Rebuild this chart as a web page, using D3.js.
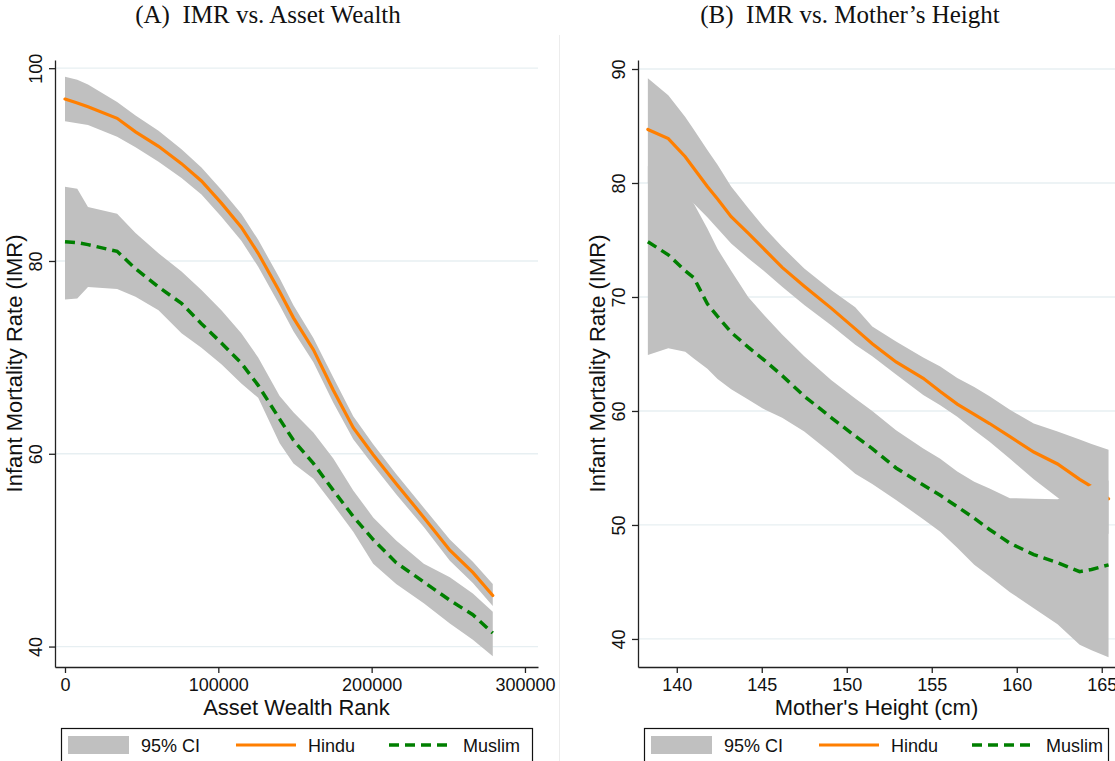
<!DOCTYPE html>
<html>
<head>
<meta charset="utf-8">
<script src="https://cdn.jsdelivr.net/npm/d3@7"></script>
<style>
  body { margin: 0; background: #fff; }
  svg { display: block; }
</style>
</head>
<body>
<script>
// panel A: IMR by asset wealth rank
const xA = [0, 8000, 15000, 34000, 46000, 61000, 76000, 89000, 102000, 115000, 126000, 140000, 149000, 162000, 175000, 188000, 201000, 216000, 234000, 251000, 266000, 279000]
const hinduA = [96.8, 96.4, 96.0, 94.8, 93.4, 91.9, 90.1, 88.3, 86.0, 83.5, 80.8, 76.8, 74.1, 70.8, 66.6, 62.7, 59.9, 56.9, 53.4, 50.0, 47.7, 45.3]
const hinduAHi = [99.1, 98.8, 98.3, 96.5, 95.1, 93.5, 91.6, 89.7, 87.4, 84.9, 82.2, 78.2, 75.4, 72.0, 67.9, 63.9, 61.0, 57.9, 54.4, 51.1, 48.8, 46.5]
const hinduALo = [94.5, 94.3, 94.1, 92.9, 91.8, 90.3, 88.6, 86.9, 84.6, 82.1, 79.4, 75.4, 72.7, 69.5, 65.3, 61.5, 58.8, 55.8, 52.4, 48.9, 46.6, 44.2]
const muslimA = [82.0, 81.9, 81.7, 81.0, 79.2, 77.3, 75.6, 73.5, 71.5, 69.4, 67.1, 63.6, 61.4, 59.0, 56.2, 53.5, 51.1, 48.7, 46.7, 44.8, 43.3, 41.4]
const muslimAHi = [87.7, 87.5, 85.6, 84.9, 82.9, 80.8, 78.9, 77.0, 74.9, 72.5, 70.0, 66.0, 64.3, 62.2, 59.5, 56.2, 53.4, 51.0, 48.6, 47.2, 45.5, 43.6]
const muslimALo = [76.0, 76.1, 77.3, 77.1, 76.3, 74.9, 72.5, 71.0, 69.3, 67.3, 65.8, 61.1, 59.0, 57.4, 54.7, 51.9, 48.6, 46.5, 44.5, 42.4, 40.7, 39.0]

// panel B: IMR by mother's height
const xB = [138.3, 139.5, 140.5, 141.0, 141.8, 142.4, 143.2, 144.2, 145.2, 146.2, 147.5, 149.1, 150.5, 151.5, 152.9, 154.5, 155.5, 156.5, 157.5, 158.4, 159.6, 161.0, 162.4, 163.7, 164.4, 165.4]
const hinduB = [84.7, 83.9, 82.3, 81.3, 79.7, 78.6, 77.05, 75.6, 74.1, 72.6, 70.95, 69.0, 67.2, 65.9, 64.3, 62.87, 61.7, 60.6, 59.7, 58.9, 57.75, 56.4, 55.35, 54.0, 53.36, 52.3]
const hinduBHi = [89.2, 87.7, 85.8, 84.7, 82.9, 81.6, 79.7, 77.8, 76.0, 74.4, 72.5, 70.6, 69.1, 67.4, 66.1, 64.7, 63.9, 62.9, 62.1, 61.3, 60.1, 58.9, 58.2, 57.5, 57.1, 56.6]
const hinduBLo = [80.0, 79.2, 78.6, 78.2, 77.0, 76.0, 74.7, 73.4, 72.2, 70.9, 69.3, 67.5, 65.8, 64.8, 63.2, 61.4, 60.5, 59.5, 58.3, 57.3, 55.8, 54.0, 52.4, 51.0, 50.2, 49.2]
const muslimB = [74.85, 73.7, 72.3, 71.7, 69.4, 68.3, 66.9, 65.6, 64.4, 63.1, 61.3, 59.4, 57.8, 56.7, 55.0, 53.5, 52.6, 51.6, 50.6, 49.6, 48.4, 47.4, 46.7, 45.9, 46.1, 46.5]
const muslimBHi = [81.5, 80.2, 79.0, 78.2, 76.0, 74.2, 72.3, 70.0, 68.3, 66.7, 64.8, 62.7, 61.1, 60.0, 58.3, 56.7, 55.8, 54.7, 53.8, 53.2, 52.35, 52.3, 52.25, 53.0, 53.5, 53.9]
const muslimBLo = [64.9, 65.5, 65.2, 64.6, 63.7, 62.8, 61.9, 61.0, 60.1, 59.4, 58.2, 56.3, 54.5, 53.6, 52.2, 50.5, 49.4, 48.0, 46.5, 45.5, 44.1, 42.7, 41.3, 39.5, 39.0, 38.4]

const ticksAX = [0, 100000, 200000, 300000]
const ticksAY = [40, 60, 80, 100]
const ticksBX = [140, 145, 150, 155, 160, 165]
const ticksBY = [40, 50, 60, 70, 80, 90]

const legendLabels = ['95% CI', 'Hindu', 'Muslim']

const SANS = 'Liberation Sans, Arial, Helvetica, sans-serif'
const SERIF = 'Liberation Serif, Times New Roman, serif'
const ORANGE = '#ff7f00'
const GREEN = '#007f00'
const BAND = '#c0c0c0'

const svg = d3.select('body')
  .append('svg')
  .attr('width', 1115)
  .attr('height', 761)

// faint divider between the two panels
svg.append('line')
  .attr('x1', 559.5).attr('x2', 559.5)
  .attr('y1', 35).attr('y2', 761)
  .attr('stroke', '#ececec')
  .attr('stroke-width', 1)

const panels = [
  {
    title: '(A)\u00a0 IMR vs. Asset Wealth', titleX: 268,
    xTitle: 'Asset Wealth Rank',
    left: 55, right: 538, top: 60, bottom: 667,
    xDomain: [-6520, 308500], yDomain: [37.88, 100.85],
    xTicks: ticksAX, yTicks: ticksAY,
    xs: xA, h: hinduA, hLo: hinduALo, hHi: hinduAHi, m: muslimA, mLo: muslimALo, mHi: muslimAHi,
    legendX: 61, legendW: 471
  },
  {
    title: '(B)\u00a0 IMR vs. Mother\u2019s Height', titleX: 850,
    xTitle: "Mother's Height (cm)",
    left: 638, right: 1115, top: 60, bottom: 667,
    xDomain: [137.72, 165.78], yDomain: [37.54, 90.79],
    xTicks: ticksBX, yTicks: ticksBY,
    xs: xB, h: hinduB, hLo: hinduBLo, hHi: hinduBHi, m: muslimB, mLo: muslimBLo, mHi: muslimBHi,
    legendX: 644, legendW: 464
  }
]

panels.forEach(drawPanel)

function drawPanel(p) {
  const x = d3.scaleLinear().domain(p.xDomain).range([p.left, p.right])
  const y = d3.scaleLinear().domain(p.yDomain).range([p.bottom, p.top])
  const g = svg.append('g')

  const rows = p.xs.map((xv, i) => ({
    x: xv, h: p.h[i], hLo: p.hLo[i], hHi: p.hHi[i], m: p.m[i], mLo: p.mLo[i], mHi: p.mHi[i]
  }))

  // gridlines
  g.selectAll('line.grid')
    .data(p.yTicks)
    .enter()
    .append('line')
    .attr('class', 'grid')
    .attr('x1', p.left).attr('x2', p.right)
    .attr('y1', d => y(d)).attr('y2', d => y(d))
    .attr('stroke', '#e7eff2')
    .attr('stroke-width', 1.3)

  const band = (lo, hi) => d3.area()
    .x(d => x(d.x))
    .y0(d => y(d[lo]))
    .y1(d => y(d[hi]))
  const line = key => d3.line()
    .x(d => x(d.x))
    .y(d => y(d[key]))

  // hindu band + line, then muslim band + line on top
  g.append('path').datum(rows).attr('d', band('hLo', 'hHi')).attr('fill', BAND)
  g.append('path').datum(rows).attr('d', line('h'))
    .attr('fill', 'none').attr('stroke', ORANGE).attr('stroke-width', 3.2).attr('stroke-linecap', 'round')
  g.append('path').datum(rows).attr('d', band('mLo', 'mHi')).attr('fill', BAND)
  g.append('path').datum(rows).attr('d', line('m'))
    .attr('fill', 'none').attr('stroke', GREEN).attr('stroke-width', 3.5).attr('stroke-dasharray', '10,6')

  // axes
  const yAxis = g.append('g')
    .attr('transform', `translate(${p.left},0)`)
    .call(d3.axisLeft(y).tickValues(p.yTicks).tickSize(6).tickSizeOuter(0).tickFormat(d3.format('d')))
  yAxis.selectAll('.tick text')
    .attr('x', 0).attr('dy', 0)
    .attr('transform', 'translate(-13,0) rotate(-90)')
    .attr('text-anchor', 'middle')

  const xAxis = g.append('g')
    .attr('transform', `translate(0,${p.bottom})`)
    .call(d3.axisBottom(x).tickValues(p.xTicks).tickSize(6).tickSizeOuter(0).tickPadding(5).tickFormat(d3.format('d')))

  ;[xAxis, yAxis].forEach(a => {
    a.attr('font-family', SANS).attr('font-size', 18)
    a.selectAll('path, line').attr('stroke', '#222').attr('stroke-width', 1.3)
    a.selectAll('text').attr('fill', '#111')
  })

  // titles
  svg.append('text')
    .attr('x', p.titleX).attr('y', 23)
    .attr('text-anchor', 'middle')
    .attr('font-family', SERIF).attr('font-size', 25)
    .attr('fill', '#111')
    .text(p.title)

  svg.append('text')
    .attr('x', (p.left + p.right) / 2).attr('y', 715)
    .attr('text-anchor', 'middle')
    .attr('font-family', SANS).attr('font-size', 22)
    .attr('fill', '#111')
    .text(p.xTitle)

  svg.append('text')
    .attr('transform', `translate(${p.left - 33},${(p.top + p.bottom) / 2}) rotate(-90)`)
    .attr('text-anchor', 'middle')
    .attr('font-family', SANS).attr('font-size', 22)
    .attr('fill', '#111')
    .text('Infant Mortality Rate (IMR)')

  // legend
  const lg = svg.append('g').attr('transform', `translate(${p.legendX},728)`)
  lg.append('rect')
    .attr('x', 0.5).attr('y', 0.5)
    .attr('width', p.legendW).attr('height', 45)
    .attr('fill', '#fff').attr('stroke', '#111').attr('stroke-width', 1.2)
  lg.append('rect')
    .attr('x', 7).attr('y', 8).attr('width', 61).attr('height', 18)
    .attr('fill', BAND)
  lg.append('line')
    .attr('x1', 175).attr('x2', 235).attr('y1', 17).attr('y2', 17)
    .attr('stroke', ORANGE).attr('stroke-width', 3.2)
  lg.append('line')
    .attr('x1', 328).attr('x2', 389).attr('y1', 17).attr('y2', 17)
    .attr('stroke', GREEN).attr('stroke-width', 3.5).attr('stroke-dasharray', '10,6')
  lg.selectAll('text.leg')
    .data(legendLabels)
    .enter()
    .append('text')
    .attr('class', 'leg')
    .attr('x', (d, i) => [80, 247, 402][i])
    .attr('y', 24)
    .attr('font-family', SANS).attr('font-size', 18)
    .attr('fill', '#111')
    .text(d => d)
}
</script>
</body>
</html>
